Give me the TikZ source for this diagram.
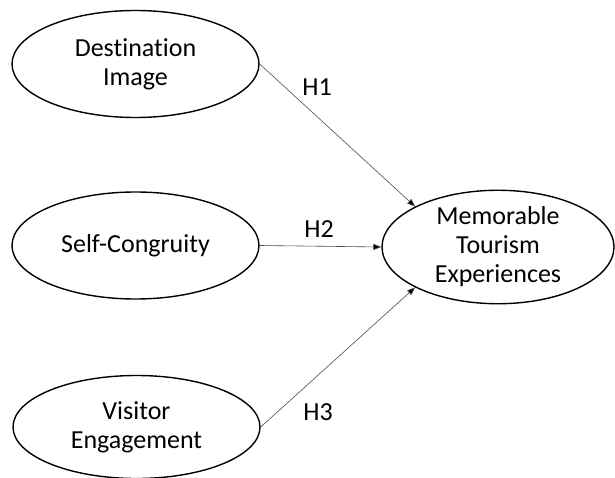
\documentclass[tikz,border=0pt]{standalone}
\usepackage{fontspec}
\setmainfont{Carlito}[Ligatures=NoCommon]
\usetikzlibrary{shapes.geometric,arrows.meta}
\begin{document}
\begin{tikzpicture}[x=1pt,y=-1pt,
  construct/.style={ellipse,draw=black,line width=1.4pt,inner sep=0pt,
    minimum width=247pt,minimum height=107pt,align=center,
    font=\fontsize{26}{29}\selectfont},
  path/.style={draw=black!70,line width=0.6pt,-{Triangle[length=8pt,width=6pt,fill=black]}},
  hlabel/.style={font=\fontsize{26}{29}\selectfont,inner sep=0pt}]
\useasboundingbox (0,0) rectangle (615,478);
\node[construct] (dest) at (135.5,64) {Destination\\Image};
\node[construct] (self) at (135.5,245.5) {Self-Congruity};
\node[construct,minimum height=103pt] (vis) at (136.5,427) {Visitor\\Engagement};
\node[construct,minimum width=232pt] (mem) at (498,247) {Memorable\\Tourism\\Experiences};
\draw[path] (dest.east) -- (mem.154);
\draw[path] (self.east) -- (mem.west);
\draw[path] (vis.east) -- (mem.206);
\node[hlabel] (h1) at (317,87) {H1};
\node[hlabel] (h2) at (319,229) {H2};
\node[hlabel] (h3) at (318,412) {H3};
\end{tikzpicture}
\end{document}
